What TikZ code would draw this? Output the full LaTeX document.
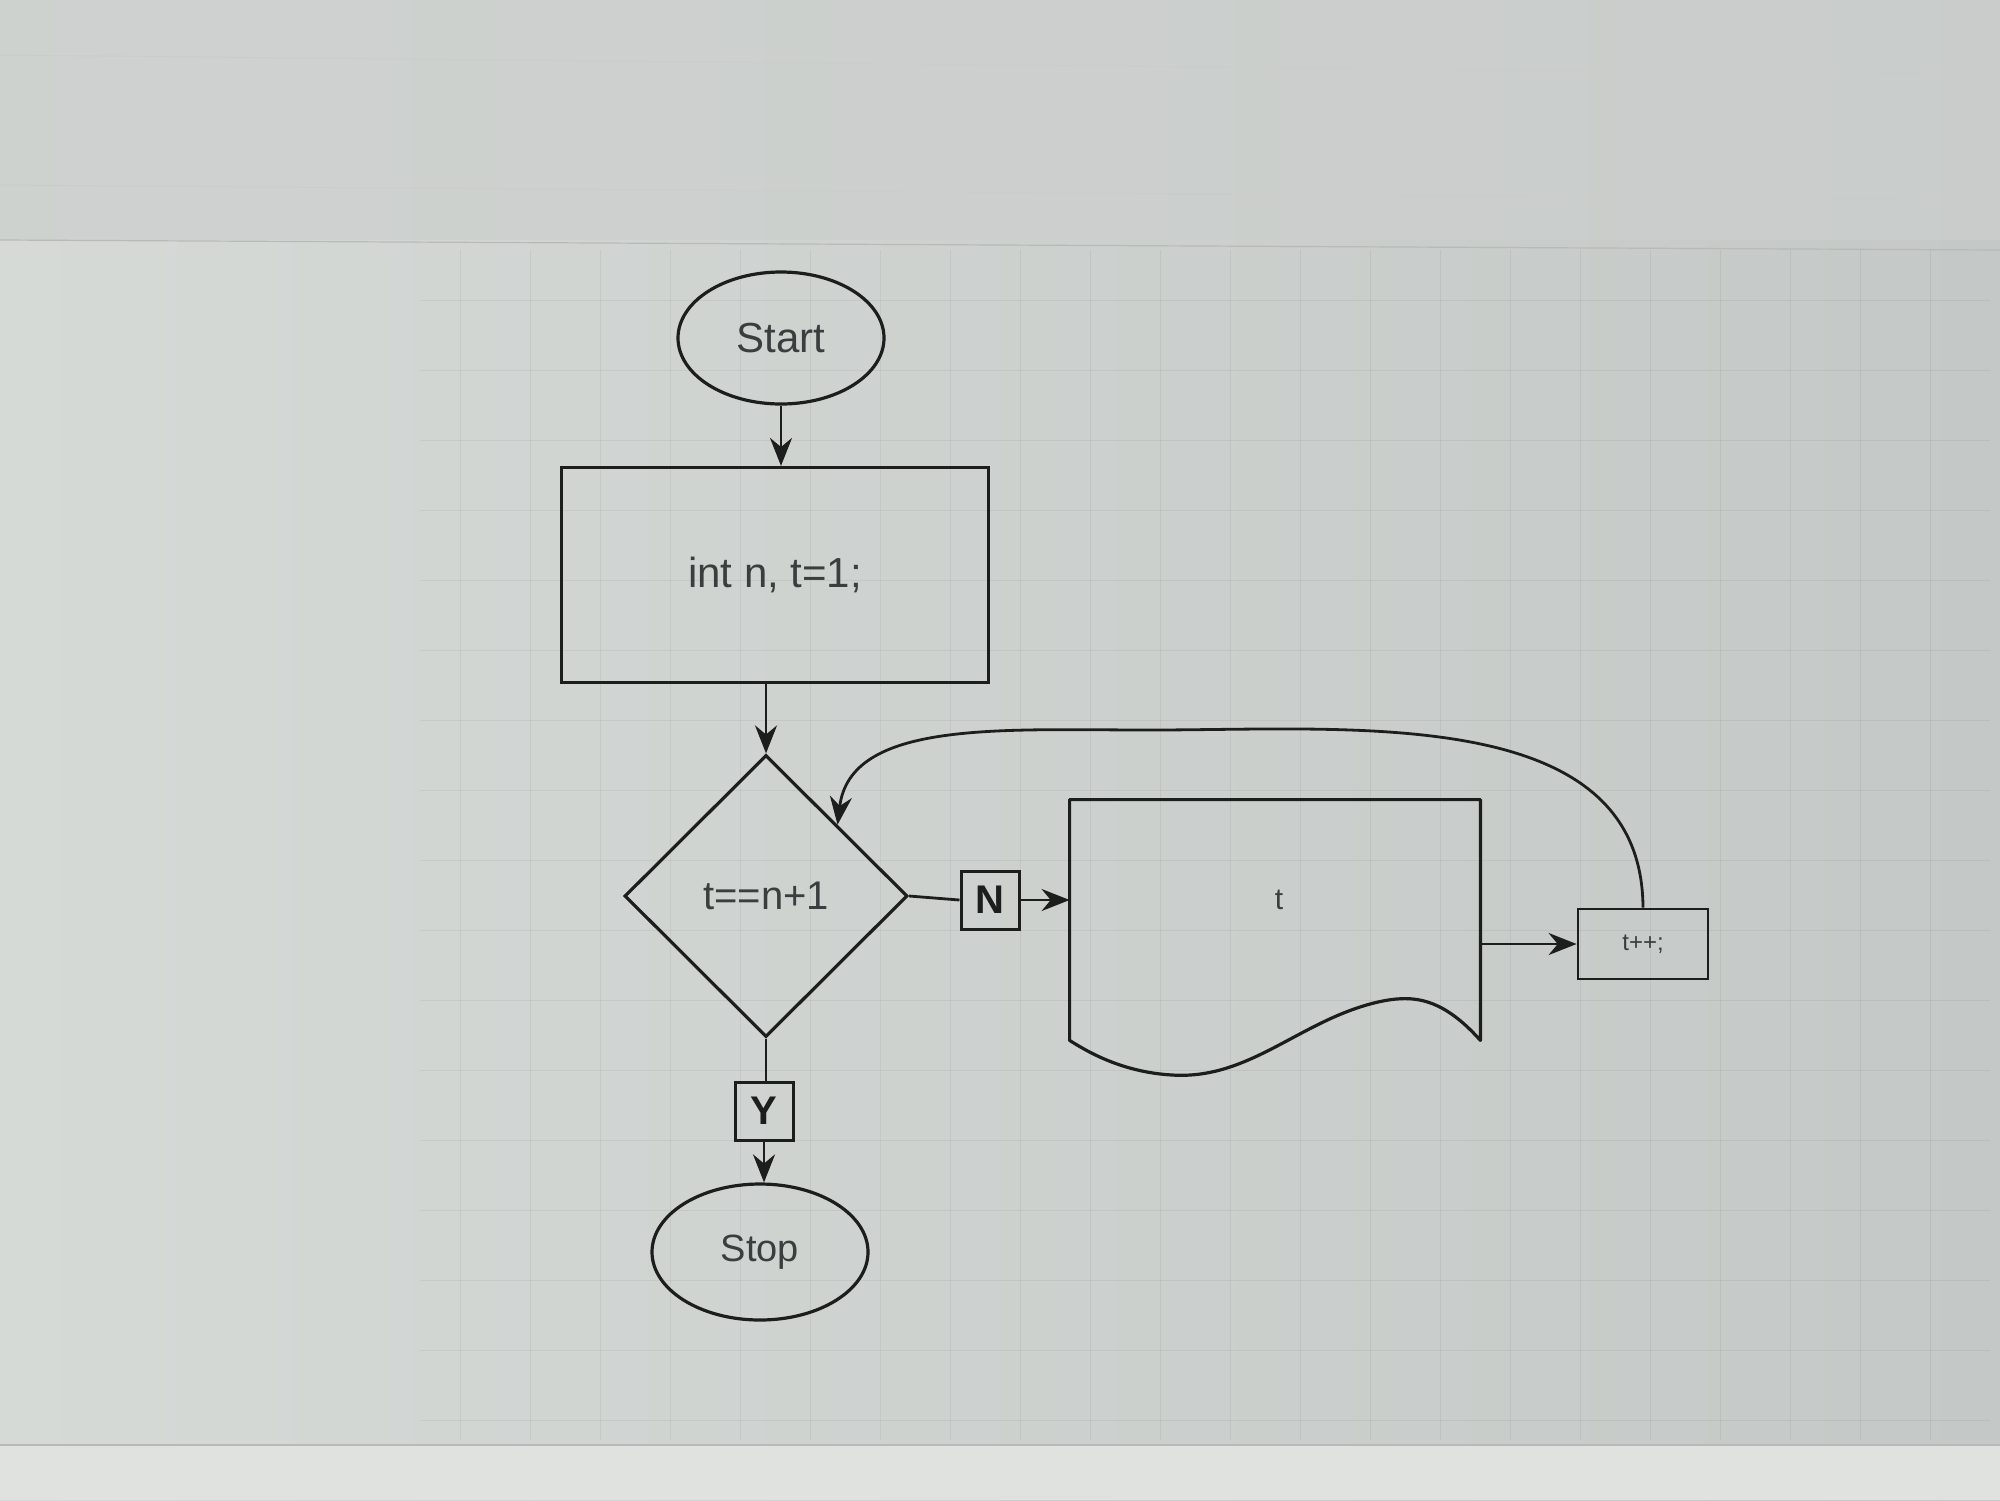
\documentclass[tikz,border=0pt]{standalone}
\usepackage{fontspec}
\setmainfont{Liberation Sans}
\usetikzlibrary{shapes.geometric,arrows.meta}
\definecolor{bgl}{RGB}{214,218,215}
\definecolor{bgm}{RGB}{230,233,230}
\definecolor{bgr}{RGB}{196,200,198}
\definecolor{topband}{RGB}{204,207,205}
\definecolor{linec}{RGB}{28,30,30}
\definecolor{txtc}{RGB}{58,62,62}
\definecolor{botc}{RGB}{224,226,224}
\tikzset{
  term/.style={ellipse, draw=linec, line width=1.6pt, inner sep=0pt, text=txtc},
  proc/.style={rectangle, draw=linec, line width=1.6pt, inner sep=0pt, text=txtc},
  decision/.style={diamond, aspect=1, draw=linec, line width=1.6pt, inner sep=0pt, text=txtc},
  tagbox/.style={rectangle, draw=linec, line width=1.5pt, inner sep=0pt, minimum size=29pt, text=linec, font=\fontsize{20}{24}\selectfont\bfseries},
  arr/.style={draw=linec, line width=1.4pt, -{Stealth[length=14pt,width=11pt]}},
  conn/.style={draw=linec, line width=1.4pt},
  gridline/.style={draw=black, opacity=0.05, line width=0.5pt},
}
\begin{document}
\begin{tikzpicture}[x=0.5pt,y=-0.5pt]
\useasboundingbox (0,0) rectangle (2000,1500);
% background
\shade[left color=bgl, middle color=bgm, right color=bgr] (0,0) rectangle (2000,1500);
\fill[topband, opacity=0.7] (0,0) rectangle (2000,240);
\draw[gray!55, line width=0.6pt] (0,240) -- (2000,250);
\draw[gray!40, line width=0.5pt] (0,55) -- (2000,75);
\draw[gray!40, line width=0.5pt] (0,185) -- (2000,200);
\foreach \gx in {460,530,...,1990} \draw[gridline] (\gx,250) -- (\gx,1440);
\foreach \gy in {300,370,...,1440} \draw[gridline] (420,\gy) -- (1990,\gy);
\fill[botc] (0,1445) rectangle (2000,1500);
\draw[gray!55, line width=0.6pt] (0,1445) -- (2000,1445);

% nodes
\node[term, minimum width=103pt, minimum height=66pt, font=\fontsize{21}{25}\selectfont] (start) at (781,338) {Start};
\node[proc, minimum width=213.5pt, minimum height=107.5pt, font=\fontsize{21}{25}\selectfont] (init) at (775,575) {int n, t=1;};
\node[decision, minimum width=141.5pt, minimum height=141pt, font=\fontsize{20}{24}\selectfont] (dia) at (766,896) {t==n+1};
\node[tagbox] (nlab) at (990,900) {N};
\node[tagbox] (ylab) at (764,1111) {Y};
\node[term, minimum width=108pt, minimum height=68pt, font=\fontsize{19}{23}\selectfont] (stop) at (760,1252) {Stop};
\node[minimum width=205pt, minimum height=120pt, inner sep=0pt] (doc) at (1275,920) {};
\node[text=txtc, font=\fontsize{15}{18}\selectfont, inner sep=0pt] (doctext) at (1279,900) {t};
\node[proc, minimum width=65pt, minimum height=35pt, line width=1.4pt, font=\fontsize{12}{14}\selectfont] (tpp) at (1643,944) {t++;};

% document shape
\draw[linec, line width=1.6pt, line join=round]
  (doc.south west) -- (doc.north west) -- (doc.north east) -- (doc.south east)
  .. controls (1440,995) and (1410,995) .. (1378,1002)
  .. controls (1300,1020) and (1250,1080) .. (1172,1075)
  .. controls (1120,1072) and (1085,1050) .. (doc.south west) -- cycle;

% connectors
\draw[arr] (start.south) -- (start.south |- init.north);
\draw[arr] (init.south -| dia.north) -- (dia.north);
\draw[conn] (dia.east) -- (nlab.west);
\draw[arr] (nlab.east) -- (nlab.east -| doc.west);
\draw[arr] (doc.east |- tpp.west) -- (tpp.west);
\draw[arr] (tpp.north) .. controls (1642,704) and (1355,730) .. (1150,730)
  .. controls (1000,730) and (850,720) .. (dia.north east);
\draw[conn] (dia.south) -- (dia.south |- ylab.north);
\draw[arr] (ylab.south) -- (ylab.south |- stop.north);
\end{tikzpicture}
\end{document}
